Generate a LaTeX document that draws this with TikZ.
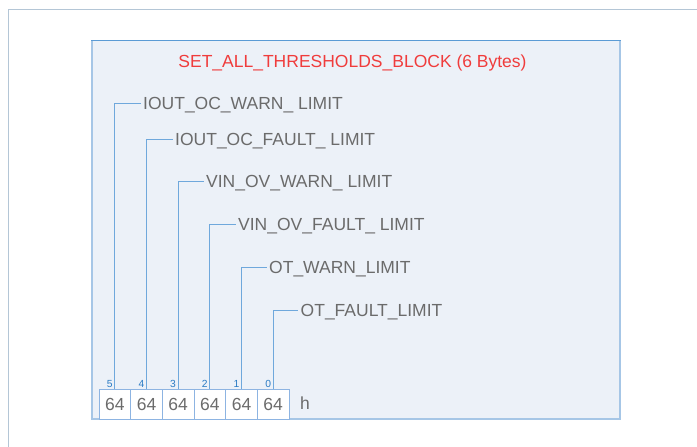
\documentclass[tikz,border=0pt]{standalone}
\usepackage{fontspec}
\setmainfont{Liberation Sans}
\definecolor{framec}{HTML}{B4C6D6}
\definecolor{boxfill}{HTML}{ECF1F8}
\definecolor{sidec}{HTML}{A6C6E6}
\definecolor{topc}{HTML}{5B9BD5}
\definecolor{connc}{HTML}{6FA8DC}
\definecolor{cellc}{HTML}{8DB4E2}
\definecolor{titlec}{HTML}{F03C3C}
\definecolor{textc}{HTML}{6B6B6B}
\definecolor{idxc}{HTML}{2A7BC4}
\begin{document}
\begin{tikzpicture}[x=1pt,y=-1pt,
  bigtext/.style={font=\fontsize{17.5}{20}\selectfont, text=textc},
  fieldlabel/.style={bigtext, anchor=west, inner xsep=2.5pt, inner ysep=0pt, text height=12.6pt, text depth=0pt},
  bytecell/.style={bigtext, draw=cellc, line width=0.8pt, fill=white, minimum width=31.67pt, minimum height=30pt, inner sep=0pt},
  idxlabel/.style={font=\fontsize{10.3}{12}\selectfont, text=idxc, anchor=base east, inner sep=0pt},
  conn/.style={draw=connc, line width=0.9pt}]
\useasboundingbox (0,0) rectangle (697,447);
% outer frame
\draw[framec, line width=1pt] (8.5,447) -- (8.5,9.5) -- (697,9.5);
% block
\fill[boxfill] (92,40) rectangle (620,419);
\draw[sidec, line width=1.6pt] (92,40) -- (92,419) -- (620,419) -- (620,40);
\draw[topc, line width=1pt] (91.2,40) -- (620.8,40);
% title
\node[font=\fontsize{17.5}{20}\selectfont, text=titlec, inner sep=0pt, text height=12.6pt, text depth=0pt] (title) at (352.5,61) {SET\_ALL\_THRESHOLDS\_BLOCK (6 Bytes)};
% cells
\foreach \i in {0,...,5}{
  \pgfmathtruncatemacro{\k}{5-\i}
  \node[bytecell] (c\k) at ({99+31.67*(\i+0.5)},404) {64};
  \node[idxlabel] (i\k) at ({99+31.67*(\i+0.5)-2},387) {\k};
}
\node[bigtext, anchor=west, inner sep=0pt] (h) at (300,403) {h};
% field labels
\node[fieldlabel] (l5) at (140.5,103) {IOUT\_OC\_WARN\_ LIMIT};
\node[fieldlabel] (l4) at (172.5,139.5) {IOUT\_OC\_FAULT\_ LIMIT};
\node[fieldlabel] (l3) at (203.5,181.5) {VIN\_OV\_WARN\_ LIMIT};
\node[fieldlabel] (l2) at (235.5,224.5) {VIN\_OV\_FAULT\_ LIMIT};
\node[fieldlabel] (l1) at (266.5,267.5) {OT\_WARN\_LIMIT};
\node[fieldlabel] (l0) at (298,310.5) {OT\_FAULT\_LIMIT};
\foreach \k in {0,...,5}{
  \draw[conn] (c\k.north) |- (l\k.west);
}
\end{tikzpicture}
\end{document}
